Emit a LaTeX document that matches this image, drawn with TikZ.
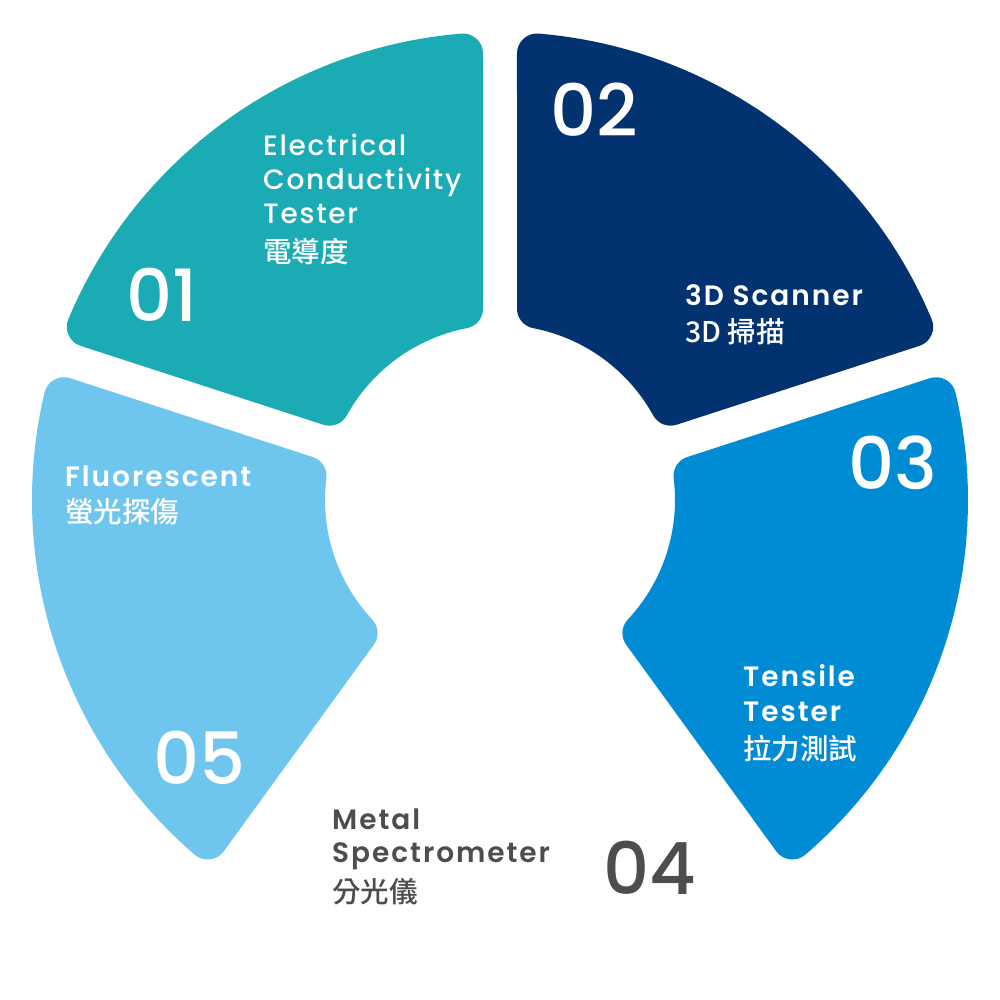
\documentclass[tikz,border=0pt]{standalone}
\usepackage{fontspec}
\setmainfont{Poppins}
\newfontfamily\pmed{Poppins Medium}[LetterSpace=6]
\newfontfamily\psb{Poppins SemiBold}[LetterSpace=7]
\newfontfamily\pnum{Poppins Medium}
\newfontfamily\cjk{Noto Sans CJK TC Medium}
\definecolor{cteal}{HTML}{1AABB4}
\definecolor{cnavy}{HTML}{023370}
\definecolor{cblue}{HTML}{008BD5}
\definecolor{clight}{HTML}{6EC6EF}
\definecolor{cgray}{HTML}{4D4D4D}
\newcommand\Ro{448}
\newcommand\ri{195}
\newcommand\ao{4.737}
\newcommand\ai{10.94}
\newcommand\myseg[3]{%
  \filldraw[#3, line width=40pt, line join=round, shift={(500,500)}]
    ({#1+\ao}:\Ro) arc[start angle={#1+\ao}, end angle={#2-\ao}, radius=\Ro]
    -- ({#2-\ai}:\ri) arc[start angle={#2-\ai}, end angle={#1+\ai}, radius=\ri]
    -- cycle;}
\tikzset{
  lbl/.style={anchor=base west, inner sep=0pt, text=white, font=\fontsize{28}{34}\selectfont\pmed},
  lblb/.style={anchor=base west, inner sep=0pt, text=white, font=\fontsize{28}{34}\selectfont\psb},
  lblc/.style={anchor=base west, inner sep=0pt, text=white, font=\fontsize{28.5}{34}\selectfont\cjk},
  num/.style={anchor=base west, inner sep=0pt, text=white, font=\fontsize{72}{72}\selectfont\pnum},
}
\begin{document}
\begin{tikzpicture}[x=1pt,y=1pt]
\useasboundingbox (0,0) rectangle (1000,1000);
\fill[white] (0,0) rectangle (1000,1000);
\myseg{90}{162}{cteal}
\myseg{18}{90}{cnavy}
\myseg{-54}{18}{cblue}
\myseg{162}{234}{clight}
% segment 01
\node[num] (n1) at (126,678) {01};
\node[lbl] (t1a) at (263,844) {Electrical};
\node[lbl] (t1b) at (263,810) {Conductivity};
\node[lbl] (t1c) at (263,776) {Tester};
\node[lblc] (t1d) at (263,737) {電導度};
% segment 02
\node[num] (n2) at (550,863) {02};
\node[lblb] (t2a) at (685,694) {3D Scanner};
\node[lblc] (t2b) at (685,657) {3D 掃描};
% segment 03
\node[num] (n3) at (848,510) {03};
\node[lblb] (t3a) at (743,313) {Tensile};
\node[lblb] (t3b) at (743,278) {Tester};
\node[lblc] (t3c) at (743,240) {拉力測試};
% segment 04
\node[num, text=cgray] (n4) at (603,105) {04};
\node[lblb, text=cgray] (t4a) at (332,170) {Metal};
\node[lblb, text=cgray] (t4b) at (332,137) {Spectrometer};
\node[lblc, text=cgray] (t4c) at (332,97) {分光儀};
% segment 05
\node[num] (n5) at (153,215) {05};
\node[lblb] (t5a) at (65,513) {Fluorescent};
\node[lblc] (t5b) at (65,477) {螢光探傷};
\end{tikzpicture}
\end{document}
